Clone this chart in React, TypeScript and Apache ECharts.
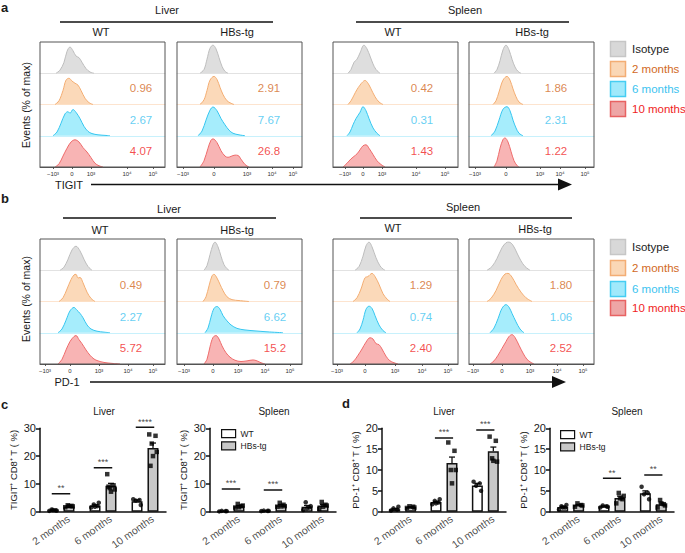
import React, { useEffect, useRef } from 'react';
import * as echarts from 'echarts';

const FONT = 'Arial, "Liberation Sans", Helvetica, sans-serif';

// ---------------- Flow histograms (x: position across panel 0..125, y: % of max) ----------------
const rowNames = ['Isotype', '2 months', '6 months', '10 months'];
const flowTickLabels = ['−10³', '0', '10³', '10⁴', '10⁵'];

// a: TIGIT
const tigitLiverWT = [
  [[16,0],[20,10],[24,35],[27,70],[30,84],[33,72],[36,55],[39,50],[42,35],[46,15],[50,4],[54,0]],
  [[15,0],[19,12],[23,45],[26,78],[29,84],[32,75],[35,68],[38,62],[41,45],[45,20],[49,6],[53,0]],
  [[13,0],[17,12],[21,40],[25,70],[28,77],[30,72],[33,84],[36,75],[40,55],[44,30],[48,14],[52,7],[58,3],[66,1],[70,0]],
  [[15,0],[19,10],[23,35],[27,60],[31,80],[35,87],[39,80],[43,62],[47,48],[51,30],[55,12],[59,4],[63,0]],
];
const tigitLiverHB = [
  [[23,0],[27,12],[30,45],[33,80],[36,90],[39,78],[42,50],[45,22],[48,6],[51,0]],
  [[23,0],[27,15],[30,45],[33,78],[37,90],[40,80],[43,55],[46,32],[50,12],[54,4],[57,0]],
  [[21,0],[25,15],[29,50],[33,82],[36,92],[40,80],[44,55],[48,35],[52,18],[56,8],[62,3],[68,0]],
  [[23,0],[27,20],[31,60],[34,86],[36,90],[40,78],[44,52],[48,35],[51,31],[54,34],[58,38],[61,37],[64,25],[68,8],[72,0]],
];
const tigitSpleenWT = [
  [[15,0],[18,12],[21,35],[24,45],[27,65],[31,90],[34,78],[37,55],[40,30],[43,12],[47,0]],
  [[15,0],[18,12],[21,30],[24,48],[27,62],[29,70],[32,77],[35,68],[38,50],[42,25],[46,8],[50,0]],
  [[14,0],[17,12],[20,35],[23,55],[27,75],[30,93],[33,80],[36,55],[40,25],[44,8],[47,0]],
  [[10,0],[14,12],[18,26],[21,34],[24,42],[27,55],[30,68],[33,71],[36,60],[40,40],[44,20],[48,8],[52,0]],
];
const tigitSpleenHB = [
  [[25,0],[28,12],[31,40],[34,75],[37,90],[40,75],[43,45],[46,20],[49,6],[52,0]],
  [[24,0],[27,12],[30,40],[34,78],[38,90],[41,78],[44,50],[47,25],[50,8],[54,0]],
  [[22,0],[26,15],[30,50],[34,85],[38,93],[41,80],[44,50],[47,25],[50,8],[54,0]],
  [[25,0],[28,20],[31,60],[34,88],[36,93],[39,80],[42,50],[45,20],[48,5],[50,0]],
];
const tigitTicks = [[13,32,51,87,113],[6,37,70,95,116],[12,30,49,83,112],[6,37,71,91,116]];
const tigitPct = [['0.96','2.67','4.07'],['2.91','7.67','26.8'],['0.42','0.31','1.43'],['1.86','2.31','1.22']];

// b: PD-1
const pd1LiverWT = [
  [[20,0],[24,10],[28,35],[32,65],[36,77],[40,62],[44,35],[48,12],[52,0]],
  [[19,0],[23,12],[27,40],[31,70],[34,85],[36,87],[38,75],[40,77],[43,60],[47,30],[51,10],[55,0]],
  [[18,0],[22,12],[26,40],[30,70],[34,81],[37,72],[40,62],[43,48],[47,25],[51,12],[57,5],[64,2],[70,0]],
  [[18,0],[22,15],[26,45],[30,72],[34,88],[36,91],[39,78],[42,65],[46,45],[50,28],[54,16],[58,10],[64,5],[72,2],[80,0]],
];
const pd1LiverHB = [
  [[27,0],[30,15],[33,50],[36,82],[38,90],[41,75],[44,45],[47,18],[50,5],[52,0]],
  [[26,0],[29,15],[32,50],[35,82],[37,87],[40,75],[43,55],[46,35],[50,15],[55,6],[62,3],[72,0]],
  [[28,0],[31,15],[34,50],[37,78],[40,84],[43,75],[46,55],[50,38],[54,25],[60,14],[68,9],[78,6],[90,3],[106,0]],
  [[27,0],[30,15],[33,55],[36,85],[39,91],[42,80],[45,58],[49,36],[53,22],[58,12],[64,8],[70,10],[76,13],[80,10],[84,4],[88,0]],
];
const pd1SpleenWT = [
  [[22,0],[26,12],[30,45],[33,78],[36,90],[39,75],[43,40],[47,14],[50,4],[52,0]],
  [[20,0],[24,12],[28,40],[32,76],[35,80],[39,90],[42,80],[46,55],[50,25],[54,8],[57,0]],
  [[24,0],[27,12],[30,40],[33,75],[36,85],[39,78],[42,55],[46,25],[50,7],[53,0]],
  [[17,0],[21,10],[25,28],[29,48],[33,70],[37,84],[40,80],[43,65],[46,62],[49,48],[53,25],[57,10],[61,4],[65,0]],
];
const pd1SpleenHB = [
  [[18,0],[23,12],[28,38],[33,72],[37,88],[40,90],[44,80],[48,55],[52,30],[56,12],[61,0]],
  [[18,0],[22,10],[27,35],[32,70],[36,88],[39,90],[43,78],[47,55],[52,30],[57,12],[63,0]],
  [[21,0],[25,15],[29,45],[33,78],[37,90],[40,82],[43,62],[47,35],[51,12],[55,0]],
  [[21,0],[25,10],[29,28],[33,50],[37,72],[40,88],[43,94],[46,85],[50,60],[54,35],[58,15],[62,5],[65,0]],
];
const pd1Ticks = [[5,30,59,88,113],[7,36,61,88,113],[4,32,62,89,115],[4,33,61,88,114]];
const pd1Pct = [['0.49','2.27','5.72'],['0.79','6.62','15.2'],['1.29','0.74','2.40'],['1.80','1.06','2.52']];

// ---------------- Bar charts ----------------
const months = ['2 months', '6 months', '10 months'];

// c: TIGIT+ CD8+ T (%)
const tigitLiverWTMean = [0.5, 2.2, 3.8];
const tigitLiverHBMean = [1.9, 9.3, 22.9];
const tigitLiverWTSem = [0.15, 0.3, 0.45];
const tigitLiverHBSem = [0.2, 0.9, 1.8];
const tigitLiverWTDots = [[0.3,0.5,0.8,0.4,0.6],[1.5,2.0,2.6,3.2,1.8],[4.5,4.2,4.0,2.4]];
const tigitLiverHBDots = [[1.6,2.1,2.3,1.9,2.0],[13.5,9.5,8.5,8.0,7.2,9.0],[27.8,27.3,24.5,21.5,20.0,16.5]];
const tigitLiverSig = [6.5, 15.8, 30.4];
const tigitLiverStars = ['**', '***', '****'];

const tigitSpleenWTMean = [0.2, 0.3, 1.8];
const tigitSpleenHBMean = [2.0, 2.3, 2.2];
const tigitSpleenWTSem = [0.05, 0.05, 0.45];
const tigitSpleenHBSem = [0.25, 0.3, 0.4];
const tigitSpleenWTDots = [[0.1,0.2,0.3,0.2],[0.2,0.3,0.4,0.3],[0.6,1.5,3.4,2.0,1.2]];
const tigitSpleenHBDots = [[1.5,2.0,2.8,2.2,1.6],[1.8,2.5,3.2,2.0,1.9],[1.0,2.5,3.5,2.2,1.8]];
const tigitSpleenSig = [8.2, 7.8, null];
const tigitSpleenStars = ['***', '***', ''];

// d: PD-1+ CD8+ T (%)
const pd1LiverWTMean = [0.6, 2.3, 6.3];
const pd1LiverHBMean = [1.1, 11.7, 14.5];
const pd1LiverWTSem = [0.15, 0.2, 0.5];
const pd1LiverHBSem = [0.1, 1.4, 1.0];
const pd1LiverWTDots = [[0.3,0.5,0.8,1.2],[1.8,2.2,2.6,3.0,2.0],[7.2,6.8,6.2,5.0]];
const pd1LiverHBDots = [[0.9,1.2,1.3,1.0],[16.6,14.6,10.0,10.0,6.8],[18.0,17.0,12.8,12.0,12.2]];
const pd1LiverSig = [null, 17.7, 19.6];
const pd1LiverStars = ['', '***', '***'];

const pd1SpleenWTMean = [1.1, 1.3, 4.4];
const pd1SpleenHBMean = [1.6, 3.3, 1.8];
const pd1SpleenWTSem = [0.2, 0.1, 0.6];
const pd1SpleenHBSem = [0.15, 0.45, 0.3];
const pd1SpleenWTDots = [[0.5,1.0,1.3,1.6,1.0],[1.0,1.3,1.5,1.2],[6.0,4.5,4.2,3.0]];
const pd1SpleenHBDots = [[1.2,1.6,2.0,1.5],[2.0,3.0,4.5,3.8,3.2],[1.0,1.8,2.8,1.5,2.0]];
const pd1SpleenSig = [null, 8.0, 8.8];
const pd1SpleenStars = ['', '**', '**'];

// ---------------- Styles ----------------
const lineColors = ['#bdbdbd', '#f3ad72', '#36c6f0', '#ee6b6b'];
const fillColors = ['#dedede', '#fbd9b9', '#a6edfc', '#f8b4b4'];
const baseColors = ['#e2e2e2', '#fde4cf', '#c8f1fc', '#f6c0c0'];
const textColors = ['#222222', '#d2691e', '#3cc3f0', '#f01e1e'];
const legendFill = ['#d8d8d8', '#fad7b6', '#a0e9fb', '#eea6a6'];
const legendStroke = ['#c6c6c6', '#f3ad74', '#45cdf2', '#e86262'];
const JIT = [-0.09, 0.06, -0.03, 0.09, 0.0, -0.06];

const PANEL_LEFTS = [40, 177, 333, 469];
const PANEL_W = 125;
const ROW_H = 31.25;

function buildOption() {
  const option: any = {
    animation: false,
    textStyle: { fontFamily: FONT },
    grid: [], xAxis: [], yAxis: [], series: [], graphic: [], legend: [],
  };

  function addFlowPanel(curves: number[][][], ticks: number[], pcts: string[], labelX: number, left: number, top: number) {
    for (let r = 0; r < 4; r++) {
      const isLast = r === 3;
      const gi = option.grid.length;
      option.grid.push({ left, top: top + r * ROW_H, width: PANEL_W, height: ROW_H });
      const xi = option.xAxis.length;
      option.xAxis.push({
        gridIndex: gi, type: 'value', min: 0, max: PANEL_W,
        axisLine: { show: true, onZero: false, lineStyle: { color: isLast ? '#555' : baseColors[r], width: 1 } },
        axisTick: { show: isLast, customValues: ticks, length: 2, lineStyle: { color: '#333', width: 0.8 } },
        axisLabel: {
          show: isLast, customValues: ticks, fontSize: 6, color: '#333', margin: 4,
          formatter: (v: number) => { const k = ticks.indexOf(Math.round(v)); return k >= 0 ? flowTickLabels[k] : ''; },
        },
        splitLine: { show: false },
      });
      const yi = option.yAxis.length;
      option.yAxis.push({ gridIndex: gi, type: 'value', min: 0, max: 100, show: false, axisLine: { onZero: false } });
      option.series.push({
        type: 'line', name: rowNames[r], xAxisIndex: xi, yAxisIndex: yi, data: curves[r],
        smooth: 0.35, showSymbol: false, silent: true,
        lineStyle: { color: lineColors[r], width: 1 },
        areaStyle: { color: fillColors[r], opacity: 1 },
        z: 2,
      });
      if (r > 0) {
        option.series.push({
          type: 'scatter', xAxisIndex: xi, yAxisIndex: yi, symbolSize: 0.1, silent: true,
          itemStyle: { color: 'rgba(0,0,0,0)' },
          data: [{ name: pcts[r - 1], value: [labelX, 52] }],
          label: { show: true, position: 'inside', formatter: '{b}', color: textColors[r], fontSize: 11.5, fontFamily: FONT },
          z: 5,
        });
      }
    }
    option.graphic.push({
      type: 'rect', z: 60, shape: { x: left, y: top, width: PANEL_W, height: ROW_H * 4 },
      style: { fill: 'rgba(0,0,0,0)', stroke: '#555', lineWidth: 1 },
    });
  }

  // Panel a
  const aTop = 42;
  addFlowPanel(tigitLiverWT, tigitTicks[0], tigitPct[0], 101, PANEL_LEFTS[0], aTop);
  addFlowPanel(tigitLiverHB, tigitTicks[1], tigitPct[1], 92, PANEL_LEFTS[1], aTop);
  addFlowPanel(tigitSpleenWT, tigitTicks[2], tigitPct[2], 89, PANEL_LEFTS[2], aTop);
  addFlowPanel(tigitSpleenHB, tigitTicks[3], tigitPct[3], 87, PANEL_LEFTS[3], aTop);
  // Panel b
  const bTop = 239;
  addFlowPanel(pd1LiverWT, pd1Ticks[0], pd1Pct[0], 91, PANEL_LEFTS[0], bTop);
  addFlowPanel(pd1LiverHB, pd1Ticks[1], pd1Pct[1], 98, PANEL_LEFTS[1], bTop);
  addFlowPanel(pd1SpleenWT, pd1Ticks[2], pd1Pct[2], 88, PANEL_LEFTS[2], bTop);
  addFlowPanel(pd1SpleenHB, pd1Ticks[3], pd1Pct[3], 92, PANEL_LEFTS[3], bTop);

  function addBarChart(c: any) {
    const gi = option.grid.length;
    option.grid.push({ left: c.left, top: 428.3, width: c.width, height: 83.4 });
    const cx = option.xAxis.length;
    option.xAxis.push({
      gridIndex: gi, type: 'category', data: months,
      axisLine: { onZero: false, lineStyle: { color: '#111', width: 1.5 } },
      axisTick: { alignWithLabel: true, length: 4, lineStyle: { color: '#111', width: 1.5 } },
      axisLabel: { show: false },
    });
    const vx = option.xAxis.length;
    option.xAxis.push({ gridIndex: gi, type: 'value', min: -0.5, max: 2.5, show: false, axisLine: { show: false, onZero: false } });
    const yi = option.yAxis.length;
    option.yAxis.push({
      gridIndex: gi, type: 'value', min: 0, max: c.max, interval: c.interval,
      name: c.yName, nameLocation: 'middle', nameGap: 22,
      nameTextStyle: { fontSize: 9.5, color: '#1a1a1a', fontFamily: FONT },
      axisLine: { show: true, onZero: false, lineStyle: { color: '#111', width: 1.5 } },
      axisTick: { show: true, length: 4, lineStyle: { color: '#111', width: 1.5 } },
      axisLabel: { fontSize: 11, color: '#1a1a1a', margin: 4, fontFamily: FONT },
      splitLine: { show: false },
    });
    const off = 8 / (c.width / 3);
    option.series.push({
      type: 'bar', name: 'WT', xAxisIndex: cx, yAxisIndex: yi, data: c.wtMean,
      barWidth: 11, barGap: '45%',
      itemStyle: { color: '#ffffff', borderColor: '#111', borderWidth: 1.5 }, z: 2,
    });
    option.series.push({
      type: 'bar', name: 'HBs-tg', xAxisIndex: cx, yAxisIndex: yi, data: c.hbMean,
      barWidth: 11, barGap: '45%',
      itemStyle: { color: '#c8c8c8', borderColor: '#111', borderWidth: 1.5 }, z: 2,
    });
    // rotated category labels (anchored at each tick, text running down-left)
    option.series.push({
      type: 'scatter', xAxisIndex: vx, yAxisIndex: yi, silent: true, clip: false, z: 6,
      symbolSize: 0.1, itemStyle: { color: 'rgba(0,0,0,0)' },
      data: months.map((m, i) => ({ name: m, value: [i, 0] })),
      label: {
        show: true, position: 'inside', formatter: '{b}', rotate: 35, align: 'right', verticalAlign: 'middle',
        offset: [3, 9], fontSize: 10.5, color: '#1a1a1a', fontFamily: FONT,
      },
    });
    const err: number[][] = [];
    for (let i = 0; i < 3; i++) {
      err.push([i - off, c.wtMean[i], c.wtSem[i]]);
      err.push([i + off, c.hbMean[i], c.hbSem[i]]);
    }
    option.series.push({
      type: 'custom', xAxisIndex: vx, yAxisIndex: yi, data: err, silent: true, z: 4,
      encode: { x: 0, y: 1 },
      renderItem: (_p: any, api: any) => {
        const x = api.value(0), m = api.value(1), s = api.value(2);
        const a = api.coord([x, m]);
        const b = api.coord([x, m + s]);
        return {
          type: 'group', children: [
            { type: 'line', shape: { x1: a[0], y1: a[1], x2: b[0], y2: b[1] }, style: { stroke: '#111', lineWidth: 1.3 } },
            { type: 'line', shape: { x1: b[0] - 3, y1: b[1], x2: b[0] + 3, y2: b[1] }, style: { stroke: '#111', lineWidth: 1.3 } },
          ],
        };
      },
    });
    const wtPts: number[][] = [];
    const hbPts: number[][] = [];
    for (let i = 0; i < 3; i++) {
      c.wtDots[i].forEach((v: number, k: number) => wtPts.push([i - off + JIT[k], v]));
      c.hbDots[i].forEach((v: number, k: number) => hbPts.push([i + off + JIT[k], v]));
    }
    option.series.push({ type: 'scatter', xAxisIndex: vx, yAxisIndex: yi, data: wtPts, symbol: 'circle', symbolSize: 4.5, itemStyle: { color: '#000' }, silent: true, z: 5 });
    option.series.push({ type: 'scatter', xAxisIndex: vx, yAxisIndex: yi, data: hbPts, symbol: 'rect', symbolSize: 4.5, itemStyle: { color: '#000' }, silent: true, z: 5 });

    // significance brackets: a short line series per bracket + star label
    c.sig.forEach((y: number | null, i: number) => {
      if (y == null) return;
      option.series.push({
        type: 'line', xAxisIndex: vx, yAxisIndex: yi, silent: true, z: 6, clip: false,
        data: [[i - 0.22, y], [i + 0.22, y]],
        showSymbol: false, symbol: 'none',
        lineStyle: { color: '#111', width: 1.5 },
      });
      option.series.push({
        type: 'scatter', xAxisIndex: vx, yAxisIndex: yi, silent: true, z: 6, clip: false,
        symbolSize: 0.1, itemStyle: { color: 'rgba(0,0,0,0)' },
        data: [{ name: c.stars[i], value: [i, y] }],
        label: { show: true, position: 'top', distance: 1, formatter: '{b}', fontSize: 9, color: '#111', fontFamily: FONT },
      });
    });
  }

  addBarChart({ left: 40, width: 126, max: 30, interval: 10, yName: 'TIGIT⁺ CD8⁺ T ( %)',
    wtMean: tigitLiverWTMean, hbMean: tigitLiverHBMean, wtSem: tigitLiverWTSem, hbSem: tigitLiverHBSem,
    wtDots: tigitLiverWTDots, hbDots: tigitLiverHBDots, sig: tigitLiverSig, stars: tigitLiverStars });
  addBarChart({ left: 210, width: 126, max: 30, interval: 10, yName: 'TIGIT⁺ CD8⁺ T ( %)',
    wtMean: tigitSpleenWTMean, hbMean: tigitSpleenHBMean, wtSem: tigitSpleenWTSem, hbSem: tigitSpleenHBSem,
    wtDots: tigitSpleenWTDots, hbDots: tigitSpleenHBDots, sig: tigitSpleenSig, stars: tigitSpleenStars });
  addBarChart({ left: 382, width: 124, max: 20, interval: 5, yName: 'PD-1⁺ CD8⁺ T ( %)',
    wtMean: pd1LiverWTMean, hbMean: pd1LiverHBMean, wtSem: pd1LiverWTSem, hbSem: pd1LiverHBSem,
    wtDots: pd1LiverWTDots, hbDots: pd1LiverHBDots, sig: pd1LiverSig, stars: pd1LiverStars });
  addBarChart({ left: 550, width: 124, max: 20, interval: 5, yName: 'PD-1⁺ CD8⁺ T ( %)',
    wtMean: pd1SpleenWTMean, hbMean: pd1SpleenHBMean, wtSem: pd1SpleenWTSem, hbSem: pd1SpleenHBSem,
    wtDots: pd1SpleenWTDots, hbDots: pd1SpleenHBDots, sig: pd1SpleenSig, stars: pd1SpleenStars });

  // Bar legends
  [[221, 429], [560, 430]].forEach(([l, t]) => {
    option.legend.push({
      left: l, top: t, orient: 'vertical', padding: 0, itemGap: 3, itemWidth: 14, itemHeight: 8, itemTextGap: 5,
      selectedMode: false,
      data: [
        { name: 'WT', icon: 'rect', itemStyle: { color: '#ffffff', borderColor: '#111', borderWidth: 1.2 } },
        { name: 'HBs-tg', icon: 'rect', itemStyle: { color: '#c8c8c8', borderColor: '#111', borderWidth: 1.2 } },
      ],
      textStyle: { fontSize: 8.5, color: '#1a1a1a', fontFamily: FONT },
    });
  });

  // ---------- Graphic annotations ----------
  const G = option.graphic;
  const T = (text: string, x: number, y: number, o: any = {}) => ({
    type: 'text', x, y, z: 50, rotation: o.rot || 0,
    style: {
      text, fontFamily: FONT, fontSize: o.fs || 11, fill: o.fill || '#1a1a1a',
      align: o.align || 'center', verticalAlign: o.va || 'middle', fontWeight: o.fw || 'normal',
    },
  });
  const L = (x1: number, y1: number, x2: number, y2: number, w = 1.5) => ({
    type: 'line', z: 50, shape: { x1, y1, x2, y2 }, style: { stroke: '#111', lineWidth: w },
  });

  // panel letters
  G.push(T('a', 1, 7, { fs: 13, fw: 'bold', align: 'left' }));
  G.push(T('b', 1, 198, { fs: 13, fw: 'bold', align: 'left' }));
  G.push(T('c', 1, 404, { fs: 13, fw: 'bold', align: 'left' }));
  G.push(T('d', 342, 403, { fs: 13, fw: 'bold', align: 'left' }));

  // headers a
  G.push(T('Liver', 167, 10));
  G.push(L(60, 22, 273, 22));
  G.push(T('WT', 101, 32));
  G.push(T('HBs-tg', 237, 32));
  G.push(T('Spleen', 465, 10));
  G.push(L(356, 22, 569, 22));
  G.push(T('WT', 393, 32));
  G.push(T('HBs-tg', 532, 32));
  // headers b
  G.push(T('Liver', 169, 209));
  G.push(L(63, 218, 276, 218));
  G.push(T('WT', 100, 230));
  G.push(T('HBs-tg', 237, 230));
  G.push(T('Spleen', 463, 207));
  G.push(L(360, 218, 572, 218));
  G.push(T('WT', 393, 228));
  G.push(T('HBs-tg', 535, 229));

  // y names of histograms
  G.push(T('Events (% of max)', 26, 105, { fs: 10.5, rot: Math.PI / 2 }));
  G.push(T('Events (% of max)', 26, 299, { fs: 10.5, rot: Math.PI / 2 }));

  // marker arrows
  G.push(T('TIGIT', 69, 185, { fs: 11 }));
  G.push(L(91, 184.5, 560, 184.5, 1.5));
  G.push({ type: 'polygon', z: 50, shape: { points: [[558, 178.5], [572, 184.5], [558, 190.5]] }, style: { fill: '#111' } });
  G.push(T('PD-1', 67, 382, { fs: 11 }));
  G.push(L(90, 382, 553, 382, 1.5));
  G.push({ type: 'polygon', z: 50, shape: { points: [[552, 376], [566, 382], [552, 388]] }, style: { fill: '#111' } });

  // histogram legends
  const legTops = [[41, 61, 81, 101], [239, 260, 281, 300]];
  legTops.forEach((tops) => {
    tops.forEach((t, i) => {
      G.push({ type: 'rect', z: 50, shape: { x: 610.5, y: t + 0.5, width: 15, height: 15 },
        style: { fill: legendFill[i], stroke: legendStroke[i], lineWidth: 1.5 } });
      G.push(T(rowNames[i], 632, t + 8, { fs: 11.5, align: 'left', fill: textColors[i] }));
    });
  });

  // bar chart titles
  G.push(T('Liver', 104, 411, { fs: 10 }));
  G.push(T('Spleen', 274, 411, { fs: 10 }));
  G.push(T('Liver', 444, 411, { fs: 10 }));
  G.push(T('Spleen', 627, 411, { fs: 10 }));

  return option;
}

export default function App() {
  const ref = useRef<HTMLDivElement>(null);
  useEffect(() => {
    if (!ref.current) return;
    const chart = echarts.init(ref.current, undefined, { renderer: 'svg' });
    chart.setOption(buildOption());
    return () => chart.dispose();
  }, []);
  return (
    <div
      ref={ref}
      style={{ position: 'fixed', left: 0, top: 0, width: 685, height: 553, background: '#fff' }}
    />
  );
}
